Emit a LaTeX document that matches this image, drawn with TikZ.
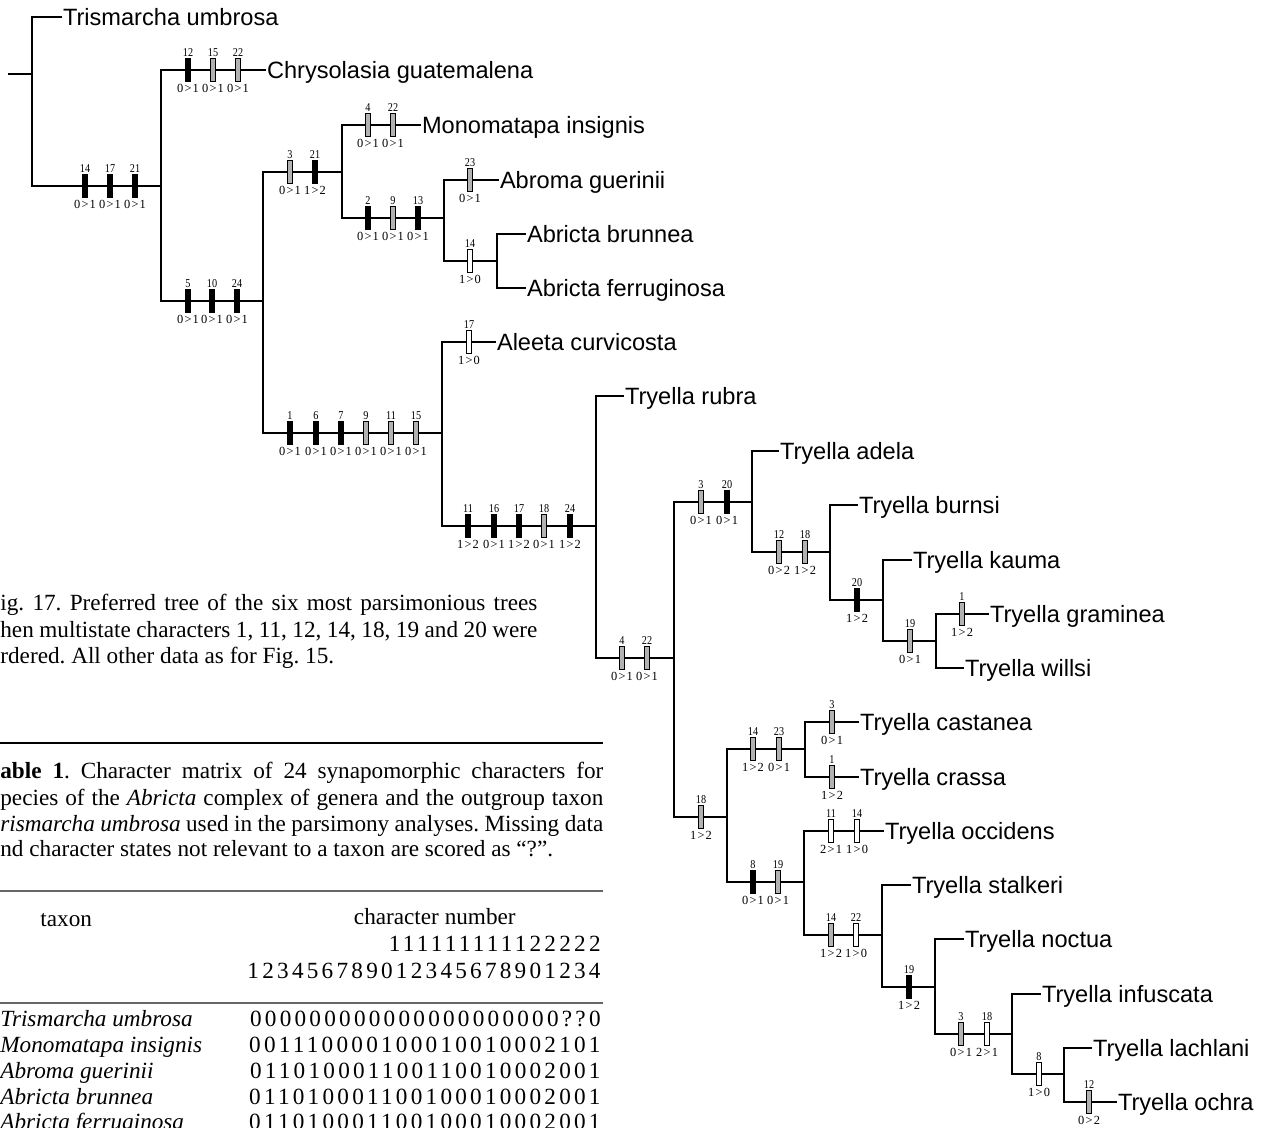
\documentclass[tikz,border=0pt]{standalone}
\usepackage{fontspec}
\setmainfont{Liberation Serif}
\newfontfamily\taxfont{Liberation Sans}
\newfontfamily\matfont[LetterSpace=14]{Liberation Serif}
\newfontfamily\numfont[FakeStretch=0.85]{Liberation Serif}
\newfontfamily\stfont[LetterSpace=10]{Liberation Serif}
\tikzset{
 tree/.style={line width=1.25pt, line cap=rect},
 taxon/.style={font=\taxfont\fontsize{11.8pt}{13pt}\selectfont, inner sep=0pt, outer sep=1pt, text height=8.45pt, text depth=0pt, anchor=west},
 chbar/.style={draw, line width=0.5pt, minimum width=2.8pt, minimum height=11.5pt, inner sep=0pt, outer sep=0pt},
 blk/.style={chbar, fill=black},
 stp/.style={chbar, fill=black!30},
 wht/.style={chbar, fill=white},
 nm/.style={font=\numfont\fontsize{6pt}{7pt}\selectfont, inner sep=0pt, text height=4pt, text depth=0pt, label distance=1pt},
 sn/.style={font=\stfont\fontsize{6.2pt}{7pt}\selectfont, inner sep=0pt, text height=4.1pt, text depth=0pt, label distance=1.3pt},
 capt/.style={font=\fontsize{11.6pt}{13.5pt}\selectfont, inner sep=0pt, anchor=mid west},
 mat/.style={font=\matfont\fontsize{11.6pt}{13.5pt}\selectfont, inner sep=0pt, anchor=mid east},
 trule/.style={line width=0.7pt, black!60},
}
\newcommand\chr[6]{\node[#1, label={[nm]above:{#5}}, label={[sn]below:{#6}}] (#2) at (#3,#4) {};}
\begin{document}
\frenchspacing
\begin{tikzpicture}[x=0.5pt,y=-0.5pt]
\useasboundingbox (0,0) rectangle (1267,1128);
% ---------- captions and table ----------
\node[capt] (c1) at (0,606) {\makebox[268.5pt][s]{ig. 17. Preferred tree of the six most parsimonious trees}};
\node[capt] (c2) at (0,633) {\makebox[268.5pt][s]{hen multistate characters 1, 11, 12, 14, 18, 19 and 20 were}};
\node[capt] (c3) at (0,659) {rdered. All other data as for Fig. 15.};
\draw[line width=1.4pt] (0,743) -- (603,743);
\node[capt] (t1) at (0,774) {\makebox[301.5pt][s]{\textbf{able 1}. Character matrix of 24 synapomorphic characters for}};
\node[capt] (t2) at (0,801) {\makebox[301.5pt][s]{pecies of the \textit{Abricta} complex of genera and the outgroup taxon}};
\node[capt] (t3) at (0,827) {\makebox[301.5pt][s]{\textit{rismarcha umbrosa} used in the parsimony analyses. Missing data}};
\node[capt] (t4) at (0,852) {nd character states not relevant to a taxon are scored as “?”.};
\draw[trule] (0,891) -- (603,891);
\node[capt] (hx) at (40,922) {taxon};
\node[capt, anchor=mid east] (hc) at (516,920) {character number};
\node[mat] (h1) at (601,947) {111111111122222};
\node[mat] (h2) at (601,974) {123456789012345678901234};
\draw[trule] (0,1003) -- (603,1003);
\node[capt] (r1) at (0,1022) {\textit{Trismarcha umbrosa}};
\node[mat] (m1) at (601,1022) {000000000000000000000??0};
\node[capt] (r2) at (0,1048) {\textit{Monomatapa insignis}};
\node[mat] (m2) at (601,1048) {001110000100010010002101};
\node[capt] (r3) at (0,1074) {\textit{Abroma guerinii}};
\node[mat] (m3) at (601,1074) {011010001100110010002001};
\node[capt] (r4) at (0,1100) {\textit{Abricta brunnea}};
\node[mat] (m4) at (601,1100) {011010001100100010002001};
\node[capt] (r5) at (0,1125) {\textit{Abricta ferruginosa}};
\node[mat] (m5) at (601,1125) {011010001100100010002001};
% ---------- tree nodes ----------
\coordinate (stub) at (9,74);
\coordinate (root) at (32,74);
\node[taxon] (tris) at (61,17) {Trismarcha umbrosa};
\coordinate (n1) at (161,186);
\node[taxon] (chrys) at (265,70) {Chrysolasia guatemalena};
\coordinate (n2) at (263,301);
\coordinate (n3) at (342,172);
\node[taxon] (mono) at (420,125) {Monomatapa insignis};
\coordinate (n4) at (444,218);
\node[taxon] (abro) at (498,180) {Abroma guerinii};
\coordinate (n4b) at (497,261);
\node[taxon] (brun) at (525,234) {Abricta brunnea};
\node[taxon] (ferr) at (525,288) {Abricta ferruginosa};
\coordinate (n5) at (442,433);
\node[taxon] (alee) at (495,342) {Aleeta curvicosta};
\coordinate (n6) at (596,526);
\node[taxon] (rubr) at (623,396) {Tryella rubra};
\coordinate (n7) at (674,658);
\coordinate (n8) at (752,502);
\node[taxon] (adel) at (778,451) {Tryella adela};
\coordinate (n9) at (830,552);
\node[taxon] (burn) at (857,505) {Tryella burnsi};
\coordinate (n10) at (883,600);
\node[taxon] (kaum) at (911,560) {Tryella kauma};
\coordinate (n11) at (936,641);
\node[taxon] (gram) at (988,614) {Tryella graminea};
\node[taxon] (will) at (963,668) {Tryella willsi};
\coordinate (n12) at (727,817);
\coordinate (n13) at (805,749);
\node[taxon] (cast) at (858,722) {Tryella castanea};
\node[taxon] (cras) at (858,777) {Tryella crassa};
\coordinate (n14) at (804,882);
\node[taxon] (occi) at (883,831) {Tryella occidens};
\coordinate (n15) at (882,935);
\node[taxon] (stal) at (910,885) {Tryella stalkeri};
\coordinate (n16) at (935,987);
\node[taxon] (noct) at (963,939) {Tryella noctua};
\coordinate (n17) at (1012,1034);
\node[taxon] (infu) at (1040,994) {Tryella infuscata};
\coordinate (n18) at (1064,1074);
\node[taxon] (lach) at (1091,1048) {Tryella lachlani};
\node[taxon] (ochr) at (1116,1102) {Tryella ochra};
% ---------- branches ----------
\draw[tree] (stub) -- (root);
\draw[tree] (root) |- (tris);
\draw[tree] (root) |- (n1);
\draw[tree] (n1) |- (chrys);
\draw[tree] (n1) |- (n2);
\draw[tree] (n2) |- (n3);
\draw[tree] (n2) |- (n5);
\draw[tree] (n3) |- (mono);
\draw[tree] (n3) |- (n4);
\draw[tree] (n4) |- (abro);
\draw[tree] (n4) |- (n4b);
\draw[tree] (n4b) |- (brun);
\draw[tree] (n4b) |- (ferr);
\draw[tree] (n5) |- (alee);
\draw[tree] (n5) |- (n6);
\draw[tree] (n6) |- (rubr);
\draw[tree] (n6) |- (n7);
\draw[tree] (n7) |- (n8);
\draw[tree] (n7) |- (n12);
\draw[tree] (n8) |- (adel);
\draw[tree] (n8) |- (n9);
\draw[tree] (n9) |- (burn);
\draw[tree] (n9) |- (n10);
\draw[tree] (n10) |- (kaum);
\draw[tree] (n10) |- (n11);
\draw[tree] (n11) |- (gram);
\draw[tree] (n11) |- (will);
\draw[tree] (n12) |- (n13);
\draw[tree] (n12) |- (n14);
\draw[tree] (n13) |- (cast);
\draw[tree] (n13) |- (cras);
\draw[tree] (n14) |- (occi);
\draw[tree] (n14) |- (n15);
\draw[tree] (n15) |- (stal);
\draw[tree] (n15) |- (n16);
\draw[tree] (n16) |- (noct);
\draw[tree] (n16) |- (n17);
\draw[tree] (n17) |- (infu);
\draw[tree] (n17) |- (n18);
\draw[tree] (n18) |- (lach);
\draw[tree] (n18) |- (ochr);
% ---------- character bars ----------
\chr{blk}{a1}{85}{186}{14}{0>1}
\chr{blk}{a2}{110}{186}{17}{0>1}
\chr{blk}{a3}{135}{186}{21}{0>1}
\chr{blk}{b1}{188}{70}{12}{0>1}
\chr{stp}{b2}{213}{70}{15}{0>1}
\chr{stp}{b3}{238}{70}{22}{0>1}
\chr{blk}{c1b}{188}{301}{5}{0>1}
\chr{blk}{c2b}{212}{301}{10}{0>1}
\chr{blk}{c3b}{237}{301}{24}{0>1}
\chr{stp}{d1}{290}{172}{3}{0>1}
\chr{blk}{d2}{315}{172}{21}{1>2}
\chr{stp}{e1}{368}{125}{4}{0>1}
\chr{stp}{e2}{393}{125}{22}{0>1}
\chr{blk}{f1}{368}{218}{2}{0>1}
\chr{stp}{f2}{393}{218}{9}{0>1}
\chr{blk}{f3}{418}{218}{13}{0>1}
\chr{stp}{g1}{470}{180}{23}{0>1}
\chr{wht}{h1b}{470}{261}{14}{1>0}
\chr{blk}{i1}{290}{433}{1}{0>1}
\chr{blk}{i2}{316}{433}{6}{0>1}
\chr{blk}{i3}{341}{433}{7}{0>1}
\chr{stp}{i4}{366}{433}{9}{0>1}
\chr{stp}{i5}{391}{433}{11}{0>1}
\chr{stp}{i6}{416}{433}{15}{0>1}
\chr{wht}{j1}{469}{342}{17}{1>0}
\chr{blk}{k1}{468}{526}{11}{1>2}
\chr{blk}{k2}{494}{526}{16}{0>1}
\chr{blk}{k3}{519}{526}{17}{1>2}
\chr{stp}{k4}{544}{526}{18}{0>1}
\chr{blk}{k5}{570}{526}{24}{1>2}
\chr{stp}{l1}{622}{658}{4}{0>1}
\chr{stp}{l2}{647}{658}{22}{0>1}
\chr{stp}{m1b}{701}{502}{3}{0>1}
\chr{blk}{m2b}{727}{502}{20}{0>1}
\chr{stp}{o1}{779}{552}{12}{0>2}
\chr{stp}{o2}{805}{552}{18}{1>2}
\chr{blk}{p1}{857}{600}{20}{1>2}
\chr{stp}{q1}{910}{641}{19}{0>1}
\chr{stp}{q2}{962}{614}{1}{1>2}
\chr{stp}{s1}{701}{817}{18}{1>2}
\chr{stp}{s2}{753}{749}{14}{1>2}
\chr{stp}{s3}{779}{749}{23}{0>1}
\chr{stp}{s4}{832}{722}{3}{0>1}
\chr{stp}{s5}{832}{777}{1}{1>2}
\chr{blk}{u1}{753}{882}{8}{0>1}
\chr{stp}{u2}{778}{882}{19}{0>1}
\chr{wht}{v1}{831}{831}{11}{2>1}
\chr{wht}{v2}{857}{831}{14}{1>0}
\chr{stp}{w1}{831}{935}{14}{1>2}
\chr{wht}{w2}{856}{935}{22}{1>0}
\chr{blk}{x1}{909}{987}{19}{1>2}
\chr{stp}{y1}{961}{1034}{3}{0>1}
\chr{wht}{y2}{987}{1034}{18}{2>1}
\chr{wht}{z1}{1039}{1074}{8}{1>0}
\chr{stp}{z2}{1089}{1102}{12}{0>2}
\end{tikzpicture}
\end{document}
